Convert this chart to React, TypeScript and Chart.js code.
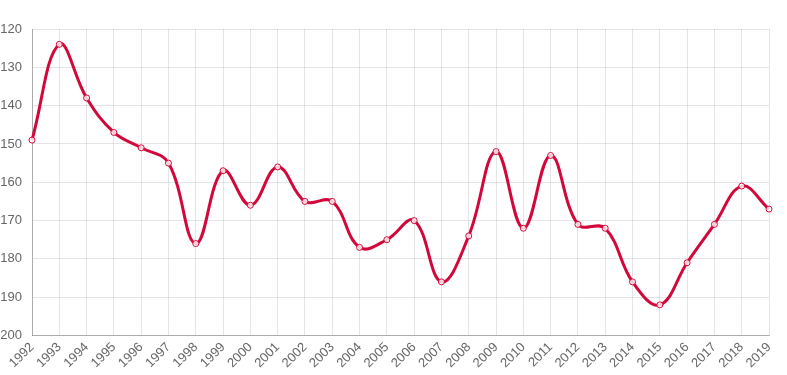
import React, { useEffect, useRef } from "react";
import { Chart, registerables } from "chart.js";

Chart.register(...registerables);

const years = [
  "1992", "1993", "1994", "1995", "1996", "1997", "1998", "1999", "2000", "2001",
  "2002", "2003", "2004", "2005", "2006", "2007", "2008", "2009", "2010", "2011",
  "2012", "2013", "2014", "2015", "2016", "2017", "2018", "2019",
];

const ranks = [
  149, 124, 138, 147, 151, 155, 176, 157, 166, 156,
  165, 165, 177, 175, 170, 186, 174, 152, 172, 153,
  171, 172, 186, 192, 181, 171, 161, 167,
];

const yMin = 120;
const yMax = 200;
const yStep = 10;

export default function App() {
  const ref = useRef<HTMLCanvasElement | null>(null);
  useEffect(() => {
    if (!ref.current) return;
    const chart = new Chart(ref.current, {
      type: "line",
      data: {
        labels: years,
        datasets: [
          {
            data: ranks,
            borderColor: "#d3083a",
            borderWidth: 3,
            backgroundColor: "rgba(255,255,255,0.8)",
            pointBorderColor: "#d3083a",
            pointBackgroundColor: "rgba(255,255,255,0.8)",
            pointBorderWidth: 1,
            pointRadius: 3,
            tension: 0.4,
            fill: false,
          },
        ],
      },
      options: {
        animation: false,
        responsive: true,
        maintainAspectRatio: false,
        layout: { padding: { top: 29, right: 18, left: 0, bottom: 0 } },
        plugins: { legend: { display: false }, tooltip: { enabled: false } },
        scales: {
          x: {
            grid: { color: "rgba(0,0,0,0.1)", drawTicks: false },
            border: { color: "rgba(0,0,0,0.25)" },
            afterFit: (scale: any) => {
              scale.paddingLeft = 0;
            },
            ticks: {
              color: "#666",
              font: { family: "'Liberation Sans', Arial, sans-serif", size: 13 },
              maxRotation: 45,
              minRotation: 45,
              padding: 4,
              autoSkip: false,
            },
          },
          y: {
            reverse: true,
            min: yMin,
            max: yMax,
            grid: { color: "rgba(0,0,0,0.1)", drawTicks: false },
            border: { color: "rgba(0,0,0,0.25)" },
            afterFit: (scale: any) => {
              scale.width = 32;
            },
            ticks: {
              stepSize: yStep,
              color: "#666",
              font: { family: "'Liberation Sans', Arial, sans-serif", size: 13 },
              padding: 10,
            },
          },
        },
      },
    });
    return () => chart.destroy();
  }, []);
  return (
    <div style={{ position: "fixed", left: 0, top: 0, width: 787, height: 375, background: "#fff" }}>
      <canvas ref={ref} />
    </div>
  );
}
